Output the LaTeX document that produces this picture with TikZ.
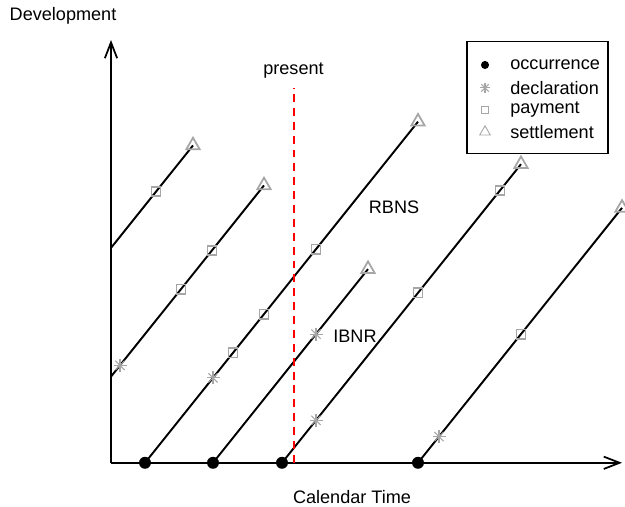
\documentclass[tikz,border=0pt]{standalone}
\usepackage{fontspec}
\setmainfont{Liberation Sans}
\usetikzlibrary{shapes.geometric,arrows.meta,backgrounds}

\tikzset{
  occ/.style={circle,fill=black,inner sep=0pt,minimum size=6.8pt},
  decl/.style={circle,inner sep=0pt,minimum size=7pt,
    append after command={
      (\tikzlastnode.north) edge[black!35,line width=0.6pt] (\tikzlastnode.south)
      (\tikzlastnode.east) edge[black!35,line width=0.6pt] (\tikzlastnode.west)
      (\tikzlastnode.north east) edge[black!35,line width=0.6pt] (\tikzlastnode.south west)
      (\tikzlastnode.north west) edge[black!35,line width=0.6pt] (\tikzlastnode.south east)}},
  pay/.style={rectangle,draw=black!35,line width=1pt,inner sep=0pt,minimum size=5.2pt},
  settle/.style={regular polygon,regular polygon sides=3,draw=black!35,line width=1pt,inner sep=0pt,minimum size=8.8pt},
  claim/.style={line width=1.1pt},
  axis/.style={line width=1pt,-{Straight Barb[length=9pt,width=7pt,line width=1pt]}},
  present/.style={red,line width=1.1pt,dash pattern=on 4.5pt off 3.4pt},
}

\begin{document}
\begin{tikzpicture}[x=0.02cm,y=0.025cm,font=\fontsize{10.3}{12}\selectfont]
	\useasboundingbox (-111,-35.2) rectangle (514,370.4);
	\coordinate (O) at (0,0);
	\coordinate (xend) at (511,0);
	\coordinate (yend) at (0,338.4);
	\coordinate (p0) at (183,0);
	\coordinate (p1) at (183,300);

	% claim 1
	\coordinate (a1) at (0,172);
	\node[pay] (p11) at (45,217){};
	\node[settle] (s1) at (82,254){};
	% claim 2
	\coordinate (a2) at (0,69);
	\node[decl] (d2) at (9,78){};
	\node[pay] (p21) at (70,139){};
	\node[pay] (p22) at (101,170){};
	\node[settle] (s2) at (153,222){};
	% claim 3
	\node[occ] (o3) at (34,0){};
	\node[decl] (d3) at (102,68){};
	\node[pay] (p31) at (122,88){};
	\node[pay] (p32) at (153,119){};
	\node[pay] (p33) at (205,171){};
	\node[settle] (s3) at (307,273){};
	% claim 4
	\node[occ] (o4) at (102,0){};
	\node[decl] (d4) at (205,103){};
	\node[settle] (s4) at (257,155){};
	% claim 5
	\node[occ] (o5) at (171,0){};
	\node[decl] (d5) at (205,34){};
	\node[pay] (p51) at (307,136){};
	\node[pay] (p52) at (389,218){};
	\node[settle] (s5) at (410,239){};
	% claim 6
	\node[occ] (o6) at (307,0){};
	\node[decl] (d6) at (328,21){};
	\node[pay] (p61) at (410,103){};
	\node[settle] (s6) at (511,204){};

	\begin{pgfonlayer}{background}
	\draw[axis] (O)--(xend);
	\draw[axis] (O)--(yend);
	\draw[claim] (a1)--(s1.center);
	\draw[claim] (a2)--(s2.center);
	\draw[claim] (o3.center)--(s3.center);
	\draw[claim] (o4.center)--(s4.center);
	\draw[claim] (o5.center)--(s5.center);
	\draw[claim] (o6.center)--(s6.center);
	\draw[present] (p0)--(p1);
	\end{pgfonlayer}

	\node (ylab) at (-48,357.6){Development};
	\node (xlab) at (241,-27.2){Calendar Time};
	\node (now) at (182.5,313.6){present};
	\node (rbns) at (283,204.8){RBNS};
	\node (ibnr) at (244,101.6){IBNR};

	% legend
	\node[draw,line width=0.6pt,minimum width=2.82cm,minimum height=2.24cm] (legend) at (426.5,292){};
	\node[occ,minimum size=4.6pt] (k1) at (374,318.4){};
	\node[decl,minimum size=5.6pt] (k2) at (374,300){};
	\node[pay,line width=0.5pt,minimum size=4pt] (k3) at (374,282.4){};
	\node[settle,line width=0.5pt,minimum size=7pt] (k4) at (374,264.8){};
	\node[anchor=west,inner sep=0pt] (t1) at (399,318.4){occurrence};
	\node[anchor=west,inner sep=0pt] (t2) at (399,300){declaration};
	\node[anchor=west,inner sep=0pt] (t3) at (399,282.4){payment};
	\node[anchor=west,inner sep=0pt] (t4) at (399,264.8){settlement};
\end{tikzpicture}
\end{document}
